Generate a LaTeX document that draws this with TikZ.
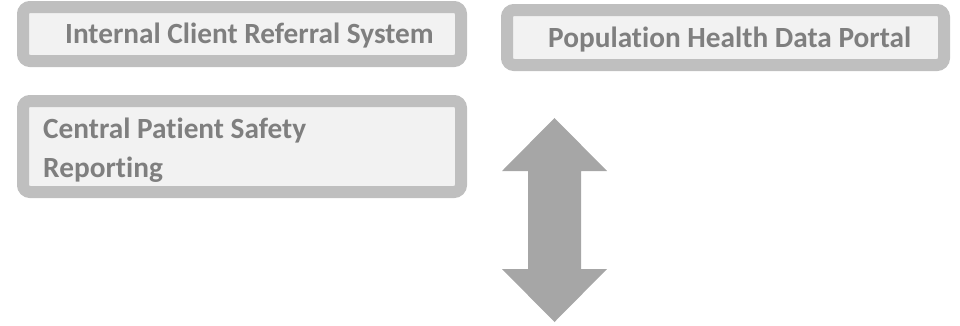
\documentclass[tikz,border=0pt]{standalone}
\usepackage{fontspec}
\setmainfont{Carlito}[Ligatures=NoCommon]
\definecolor{frame}{HTML}{BFBFBF}
\definecolor{panelfill}{HTML}{F2F2F2}
\definecolor{labelgray}{HTML}{7F7F7F}
\definecolor{arrowgray}{HTML}{A6A6A6}
\tikzset{
  panel/.style={draw=frame, fill=panelfill, line width=12pt, rounded corners=7pt, inner sep=0pt},
  paneltext/.style={text=labelgray, font=\fontsize{29.3}{39}\selectfont\bfseries, inner sep=0pt, align=left}
}
\begin{document}
\begin{tikzpicture}
\begin{scope}[x=1pt,y=-1pt]
\useasboundingbox (0,0) rectangle (960,325);

% boxes
\node[panel, minimum width=438pt, minimum height=54pt] (referral) at (242,34) {};
\node[panel, minimum width=438pt, minimum height=91pt] (safety) at (242,146.5) {};
\node[panel, minimum width=437pt, minimum height=55pt] (portal) at (725.5,37.5) {};

% labels
\node[paneltext, anchor=base west] (referraltext) at (65,43) {Internal Client Referral System};
\node[paneltext, anchor=base west] (safetytext) at (43,177) {Central Patient Safety\\Reporting};
\node[paneltext, anchor=base west] (portaltext) at (548,47) {Population Health Data Portal};

% double arrow
\fill[arrowgray] (554.5,118) -- (607,171) -- (581,171) -- (581,269) -- (607,269)
  -- (554.5,322) -- (502,269) -- (528,269) -- (528,171) -- (502,171) -- cycle;

\end{scope}
\end{tikzpicture}
\end{document}
